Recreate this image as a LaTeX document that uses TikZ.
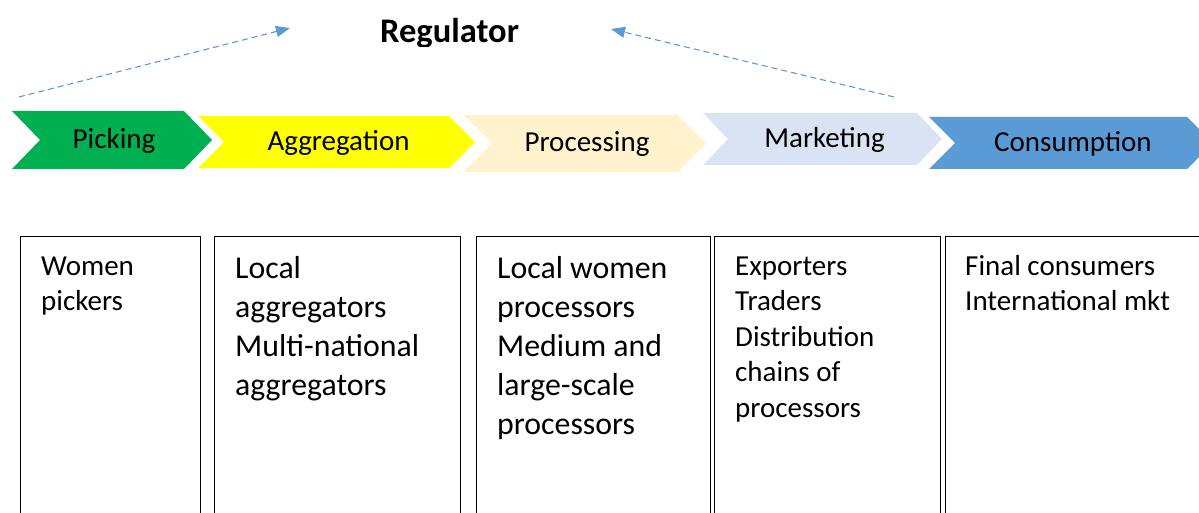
\documentclass[tikz,border=0pt]{standalone}
\usepackage{fontspec}
\setmainfont{Carlito}
\usetikzlibrary{arrows.meta}
\definecolor{cgreen}{HTML}{00B050}
\definecolor{cyellow}{HTML}{FFFF00}
\definecolor{ccream}{HTML}{FFF2CC}
\definecolor{cpale}{HTML}{DAE3F3}
\definecolor{cblue}{HTML}{5B9BD5}
\tikzset{
  chevlabel/.style={inner sep=0pt, font=\fontsize{29}{35}\selectfont},
  panel/.style={draw=black, line width=0.9pt, anchor=north west, outer sep=0pt, inner sep=0pt, minimum height=320pt},
  smalltext/.style={anchor=base west, align=left, inner sep=0pt, font=\fontsize{29}{35.5}\selectfont},
  bigtext/.style={anchor=base west, align=left, inner sep=0pt, font=\fontsize{31.8}{39}\selectfont},
  regarrow/.style={draw=cblue, line width=1.1pt, dash pattern=on 6pt off 4pt, -{Triangle[length=14pt,width=11pt]}},
}
\newcommand{\mychev}[8]{%
  \fill[#7] (#2,#4) -- (#3,#4) -- ({#3+#6},{(#4+#5)/2}) -- (#3,#5) -- (#2,#5) -- ({#2+#6},{(#4+#5)/2}) -- cycle;
  \node[chevlabel] (#1) at ({(#2+#6+#3)/2+2},{(#4+#5)/2+1}) {#8};
}
\begin{document}
\begin{tikzpicture}[x=1pt,y=-1pt]
\useasboundingbox (0,0) rectangle (1199,513);
\clip (0,0) rectangle (1199,513);
% regulator (descender cut off as in the reference)
\begin{scope}
\clip (300,0) rectangle (600,47);
\node[anchor=base west, inner sep=0pt, font=\fontsize{34.5}{40}\selectfont\bfseries] (reg) at (380,43) {Regulator};
\end{scope}
% chevrons
\mychev{pick}{12}{184}{111}{169}{28}{cgreen}{Picking}
\mychev{aggr}{198}{449}{116}{168}{26}{cyellow}{Aggregation}
\mychev{proc}{464}{678}{115}{172}{28}{ccream}{Processing}
\mychev{mark}{703}{917}{113}{165}{25}{cpale}{Marketing}
\mychev{cons}{929}{1187}{117}{169}{26}{cblue}{Consumption}
% dashed arrows
\coordinate (la) at (19,97);
\coordinate (lb) at (290,28);
\coordinate (ra) at (894,97);
\coordinate (rb) at (611,29);
\draw[regarrow] (la) -- (lb);
\draw[regarrow] (ra) -- (rb);
% panels
\node[panel, minimum width=180pt] (p1) at (20,236) {};
\node[panel, minimum width=246pt] (p2) at (214,236) {};
\node[panel, minimum width=234pt] (p3) at (476,236) {};
\node[panel, minimum width=226pt] (p4) at (714,236) {};
\node[panel, minimum width=270pt] (p5) at (945,236) {};
% panel texts (anchored at the baseline of the last line)
\node[smalltext] (t1) at (41,310.5) {Women\\pickers};
\node[bigtext] (t2) at (235,395) {Local\\aggregators\\Multi-national\\aggregators};
\node[bigtext] (t3) at (497,434) {Local women\\processors\\Medium and\\large-scale\\processors};
\node[smalltext] (t4) at (735,417) {Exporters\\Traders\\Distribution\\chains of\\processors};
\node[smalltext] (t5) at (965,310.5) {Final consumers\\International mkt};
\end{tikzpicture}
\end{document}
